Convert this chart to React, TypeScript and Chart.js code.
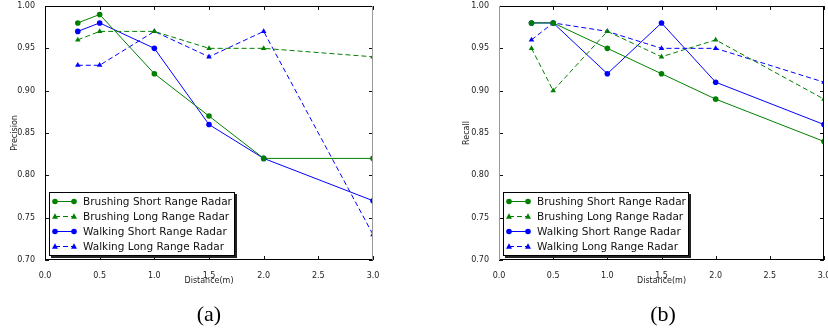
import React, { useEffect, useRef } from "react";
import { Chart, registerables } from "chart.js";
Chart.register(...registerables);

const distances = [0.3, 0.5, 1.0, 1.5, 2.0, 3.0];
const seriesNames = [
  "Brushing Short Range Radar",
  "Brushing Long Range Radar",
  "Walking Short Range Radar",
  "Walking Long Range Radar",
];
const precisionBrushingShort = [0.98, 0.99, 0.92, 0.87, 0.82, 0.82];
const precisionBrushingLong = [0.96, 0.97, 0.97, 0.95, 0.95, 0.94];
const precisionWalkingShort = [0.97, 0.98, 0.95, 0.86, 0.82, 0.77];
const precisionWalkingLong = [0.93, 0.93, 0.97, 0.94, 0.97, 0.73];
const recallBrushingShort = [0.98, 0.98, 0.95, 0.92, 0.89, 0.84];
const recallBrushingLong = [0.95, 0.9, 0.97, 0.94, 0.96, 0.89];
const recallWalkingShort = [0.98, 0.98, 0.92, 0.98, 0.91, 0.86];
const recallWalkingLong = [0.96, 0.98, 0.97, 0.95, 0.95, 0.91];
const xTicks = [0, 0.5, 1.0, 1.5, 2.0, 2.5, 3.0];
const yTicks = [0.7, 0.75, 0.8, 0.85, 0.9, 0.95, 1.0];

const GREEN = "#008000";
const BLUE = "#0000ff";
const styles = [
  { color: GREEN, dash: [] as number[], marker: "circle" },
  { color: GREEN, dash: [5, 3], marker: "triangle" },
  { color: BLUE, dash: [] as number[], marker: "circle" },
  { color: BLUE, dash: [5, 3], marker: "triangle" },
];

const axisFont = { family: "DejaVu Sans", size: 8 };

function drawMarker(ctx: CanvasRenderingContext2D, kind: string, x: number, y: number, color: string) {
  ctx.save();
  ctx.setLineDash([]);
  ctx.fillStyle = color;
  ctx.beginPath();
  if (kind === "triangle") {
    ctx.moveTo(x, y - 3.2);
    ctx.lineTo(x + 3, y + 2.2);
    ctx.lineTo(x - 3, y + 2.2);
    ctx.closePath();
  } else {
    ctx.arc(x, y, 2.8, 0, Math.PI * 2);
  }
  ctx.fill();
  ctx.restore();
}

const framePlugin = {
  id: "frameTicks",
  afterDatasetsDraw(chart: any, _args: any, opts: any) {
    const { ctx, chartArea, scales } = chart;
    const { left, right, top, bottom } = chartArea;
    ctx.save();
    ctx.lineWidth = 1;
    ctx.strokeStyle = "#111";
    const tl = 4;
    ctx.beginPath();
    xTicks.forEach((v) => {
      const px = Math.round(scales.x.getPixelForValue(v)) + 0.5;
      ctx.moveTo(px, bottom);
      ctx.lineTo(px, bottom - tl);
      ctx.moveTo(px, top);
      ctx.lineTo(px, top + tl);
    });
    yTicks.forEach((v) => {
      const py = Math.round(scales.y.getPixelForValue(v)) + 0.5;
      ctx.moveTo(left, py);
      ctx.lineTo(left + tl, py);
      ctx.moveTo(right, py);
      ctx.lineTo(right - tl, py);
    });
    ctx.stroke();
    // frame
    ctx.beginPath();
    ctx.strokeStyle = "#000";
    ctx.moveTo(left, top + 0.5);
    ctx.lineTo(right, top + 0.5);
    ctx.moveTo(left, bottom - 0.5);
    ctx.lineTo(right, bottom - 0.5);
    ctx.stroke();
    ctx.beginPath();
    ctx.strokeStyle = opts.leftColor || "#000";
    ctx.moveTo(left + 0.5, top);
    ctx.lineTo(left + 0.5, bottom);
    ctx.stroke();
    ctx.beginPath();
    ctx.strokeStyle = opts.rightColor || "#000";
    ctx.moveTo(right - 0.5, top);
    ctx.lineTo(right - 0.5, bottom);
    ctx.stroke();
    ctx.restore();
  },
};

const legendPlugin = {
  id: "boxLegend",
  afterDraw(chart: any) {
    const { ctx, chartArea } = chart;
    const w = 186;
    const h = 64;
    const lx = Math.round(chartArea.left) + 4;
    const ly = Math.round(chartArea.bottom) - 4 - h;
    ctx.save();
    ctx.fillStyle = "#fff";
    ctx.fillRect(lx, ly, w, h);
    ctx.fillStyle = "#222";
    ctx.fillRect(lx + 2, ly + h, w, 2);
    ctx.fillRect(lx + w, ly + 2, 2, h);
    ctx.strokeStyle = "#000";
    ctx.lineWidth = 1;
    ctx.strokeRect(lx + 0.5, ly + 0.5, w - 1, h - 1);
    chart.data.datasets.forEach((ds: any, i: number) => {
      const st = styles[i];
      const cy = ly + 9 + i * 15;
      const x1 = lx + 6;
      const x2 = lx + 25;
      ctx.save();
      ctx.strokeStyle = st.color;
      ctx.lineWidth = 1;
      ctx.setLineDash(st.dash);
      ctx.beginPath();
      ctx.moveTo(x1, cy + 0.5);
      ctx.lineTo(x2, cy + 0.5);
      ctx.stroke();
      ctx.restore();
      drawMarker(ctx, st.marker, x1, cy + 0.5, st.color);
      drawMarker(ctx, st.marker, x2, cy + 0.5, st.color);
      ctx.fillStyle = "#111";
      ctx.font = "10.5px 'DejaVu Sans'";
      ctx.textBaseline = "middle";
      ctx.textAlign = "left";
      ctx.fillText(ds.label, lx + 34, cy + 1);
    });
    ctx.restore();
  },
};

type PanelProps = {
  left: number;
  yLabel: string;
  values: number[][];
  padLeft: number;
  yWidth: number;
  padRight: number;
  leftColor: string;
  rightColor: string;
};

function Panel(props: PanelProps) {
  const ref = useRef<HTMLCanvasElement | null>(null);
  useEffect(() => {
    if (!ref.current) return;
    const chart = new Chart(ref.current, {
      type: "line",
      data: {
        datasets: props.values.map((vals, i) => ({
          label: seriesNames[i],
          data: distances.map((d, j) => ({ x: d, y: vals[j] })),
          borderColor: styles[i].color,
          backgroundColor: styles[i].color,
          borderWidth: 1,
          borderDash: styles[i].dash,
          pointStyle: styles[i].marker,
          pointRadius: styles[i].marker === "triangle" ? 3.2 : 2.8,
          pointBorderWidth: 0,
          pointBackgroundColor: styles[i].color,
          tension: 0,
        })),
      },
      options: {
        responsive: false,
        maintainAspectRatio: false,
        animation: false,
        events: [],
        layout: { padding: { top: 6, left: props.padLeft, right: props.padRight, bottom: 44 } },
        plugins: {
          legend: { display: false },
          tooltip: { enabled: false },
          frameTicks: { leftColor: props.leftColor, rightColor: props.rightColor },
        } as any,
        scales: {
          x: {
            type: "linear",
            min: 0,
            max: 3,
            afterBuildTicks: (s: any) => {
              s.ticks = xTicks.map((v) => ({ value: v }));
            },
            afterFit: (s: any) => {
              s.height = 30;
              s.paddingLeft = 0;
              s.paddingRight = 0;
            },
            ticks: {
              autoSkip: false,
              maxRotation: 0,
              padding: 3,
              font: axisFont,
              color: "#222",
              callback: (v: any) => Number(v).toFixed(1),
            },
            grid: { display: false },
            border: { display: false },
            title: {
              display: true,
              text: "Distance(m)",
              font: axisFont,
              color: "#222",
              padding: { top: 0, bottom: 4 },
            },
          },
          y: {
            type: "linear",
            min: 0.7,
            max: 1.0,
            afterBuildTicks: (s: any) => {
              s.ticks = yTicks.map((v) => ({ value: v }));
            },
            afterFit: (s: any) => {
              s.width = props.yWidth;
              s.paddingTop = 0;
              s.paddingBottom = 0;
            },
            ticks: {
              padding: 2,
              font: axisFont,
              color: "#222",
              callback: (v: any) => Number(v).toFixed(2),
            },
            grid: { display: false },
            border: { display: false },
            title: {
              display: true,
              text: props.yLabel,
              font: axisFont,
              color: "#222",
              padding: { top: 10, bottom: 0 },
            },
          },
        },
      } as any,
      plugins: [framePlugin, legendPlugin],
    });
    return () => chart.destroy();
  }, []);
  return (
    <canvas
      ref={ref}
      width={414}
      height={334}
      style={{ position: "absolute", left: props.left, top: 0, width: 414, height: 334, display: "block" }}
    />
  );
}

export default function App() {
  const captionStyle: React.CSSProperties = {
    position: "absolute",
    top: 301,
    width: 100,
    textAlign: "center",
    fontFamily: "'Liberation Serif', 'DejaVu Serif', serif",
    fontSize: 22,
    lineHeight: "26px",
    color: "#000",
  };
  return (
    <div style={{ position: "fixed", left: 0, top: 0, width: 828, height: 334, background: "#fff", overflow: "hidden" }}>
      <Panel
        left={0}
        yLabel="Precision"
        values={[precisionBrushingShort, precisionBrushingLong, precisionWalkingShort, precisionWalkingLong]}
        padLeft={0}
        yWidth={45}
        padRight={41}
        leftColor="#000"
        rightColor="#999"
      />
      <Panel
        left={414}
        yLabel="Recall"
        values={[recallBrushingShort, recallBrushingLong, recallWalkingShort, recallWalkingLong]}
        padLeft={38}
        yWidth={47}
        padRight={1}
        leftColor="#999"
        rightColor="#000"
      />
      <div style={{ ...captionStyle, left: 159 }}>(a)</div>
      <div style={{ ...captionStyle, left: 613 }}>(b)</div>
    </div>
  );
}
